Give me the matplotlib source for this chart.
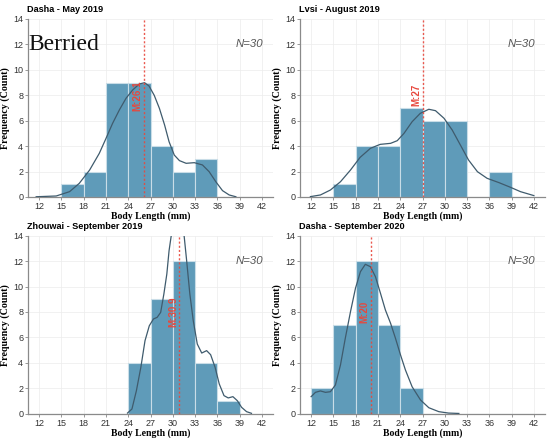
import matplotlib
matplotlib.use("Agg")
import matplotlib.pyplot as plt
import numpy as np

# ---- data ----
bin_edges = [12, 15, 18, 21, 24, 27, 30, 33, 36, 39, 42]
x_ticks = [12, 15, 18, 21, 24, 27, 30, 33, 36, 39, 42]
y_ticks = [0, 2, 4, 6, 8, 10, 12, 14]

titles = ["Dasha - May 2019", "Lvsi - August 2019",
          "Zhouwai - September 2019", "Dasha - September 2020"]

counts_1 = [0, 1, 2, 9, 9, 4, 2, 3, 0, 0]
counts_2 = [0, 1, 4, 4, 7, 6, 6, 0, 2, 0]
counts_3 = [0, 0, 0, 0, 4, 9, 12, 4, 1, 0]
counts_4 = [2, 7, 12, 7, 2, 0, 0, 0, 0, 0]

means = [26.1, 27, 30.9, 20]
mean_labels = ["M:26.1", "M:27", "M:30.9", "M:20"]
n_labels = ["N=30", "N=30", "N=30", "N=30"]

# density curves (in count units)
kde_x_1 = [11.6, 14.3, 16.1, 17.4, 18.8, 20.1, 21.0, 21.9, 22.8, 23.7, 24.6, 25.5, 26.2,
           26.8, 27.5, 28.2, 28.9, 29.5, 30.2, 30.9, 31.8, 32.9, 34.0, 34.9, 35.8, 36.7,
           37.6, 38.5]
kde_y_1 = [0.02, 0.08, 0.42, 1.07, 2.12, 3.43, 4.6, 5.8, 6.84, 7.76, 8.42, 8.89, 8.99,
           8.73, 8.0, 6.97, 5.66, 4.35, 3.3, 2.86, 2.65, 2.7, 2.52, 1.99, 1.2, 0.5,
           0.16, 0.02]

kde_x_2 = [11.9, 13.25, 14.6, 15.95, 17.3, 18.6, 19.99, 21.3, 22.7, 23.6, 24.5, 25.6,
           26.7, 27.85, 28.75, 29.9, 31.0, 32.1, 33.2, 34.4, 35.7, 37.3, 38.86, 40.2, 42.0]
kde_y_2 = [0.03, 0.16, 0.55, 1.2, 2.12, 3.12, 3.83, 4.14, 4.22, 4.43, 5.0, 5.92,
           6.58, 6.9, 6.79, 6.19, 5.27, 4.09, 2.91, 1.99, 1.47, 1.13, 0.76, 0.42, 0.11]

kde_x_3 = [23.9, 24.5, 25.1, 25.7, 26.26, 26.84, 27.4, 27.9, 28.37, 28.8, 29.2, 29.5,
           29.76, 30.2, 30.7, 31.2, 31.55, 31.87, 32.3, 32.76, 33.3, 33.9, 34.56, 35.1,
           35.7, 36.26, 36.9, 37.47, 38.1, 38.7, 39.27, 39.94, 40.6]
kde_y_3 = [0.05, 0.37, 1.81, 3.65, 5.74, 6.92, 7.45, 7.58, 7.97, 9.41, 10.99, 12.82,
           13.87, 15.5, 16.2, 15.4, 13.87, 12.03, 9.41, 7.31, 5.48, 4.77, 4.96, 4.64,
           3.65, 2.34, 1.42, 1.24, 1.34, 1.02, 0.5, 0.16, 0.03]

kde_x_4 = [12.0, 12.58, 13.25, 13.93, 14.6, 15.27, 15.95, 16.6, 17.3, 17.97, 18.64,
           19.3, 19.99, 20.66, 21.34, 22.0, 22.7, 23.36, 24.04, 24.7, 25.6, 26.73,
           27.85, 29.2, 30.5, 31.9]
kde_y_4 = [1.34, 1.68, 1.79, 1.68, 1.73, 2.26, 3.83, 5.93, 8.02, 9.86, 11.17,
           11.75, 11.56, 10.78, 9.47, 8.16, 7.11, 5.93, 4.62, 3.44, 2.12, 1.08,
           0.47, 0.16, 0.05, 0.02]

counts = [counts_1, counts_2, counts_3, counts_4]
kde_x = [kde_x_1, kde_x_2, kde_x_3, kde_x_4]
kde_y = [kde_y_1, kde_y_2, kde_y_3, kde_y_4]

# ---- style ----
BAR = "#5f9bb9"
EDGE = "#c9dde7"
CURVE = "#3f5b6d"
RED = "#e8473c"
SANS = ["Liberation Sans", "DejaVu Sans"]
SERIF = ["Liberation Serif", "DejaVu Serif"]

fig = plt.figure(figsize=(5.5, 4.38), dpi=100)
W, H = 550, 438
boxes = [(28, 19), (300, 19), (28, 235.7), (300, 235.7)]
aw, ah = 245, 178

for i in range(4):
    x0, y0 = boxes[i]
    ax = fig.add_axes([x0 / W, 1 - (y0 + ah) / H, aw / W, ah / H])
    widths = np.diff(bin_edges)
    ax.bar(bin_edges[:-1], counts[i], width=widths, align="edge",
           color=BAR, edgecolor=EDGE, linewidth=0.8, zorder=2)
    ax.plot(kde_x[i], kde_y[i], color=CURVE, lw=0.9, zorder=3,
            solid_joinstyle="round", antialiased=True)
    ax.axvline(means[i], color=RED, lw=1.0, ls=(0, (1.5, 1.5)), alpha=0.9, zorder=4)
    ax.text(means[i] - 0.2, 8.0, mean_labels[i], rotation=90, color=RED,
            fontsize=7, fontweight="bold", ha="right", va="center",
            family=SANS, zorder=5)
    ax.text(42.2, 12.0, n_labels[i], color="#555555", fontsize=8.2,
            style="italic", ha="right", va="center", family=SANS)
    ax.set_xlim(10.5, 43.5)
    ax.set_ylim(0, 14)
    ax.set_xticks(x_ticks)
    ax.set_yticks(y_ticks)
    ax.tick_params(labelsize=6.5, length=2, width=0.6, colors="#888888",
                   labelcolor="#333333", pad=1.5)
    for lab in ax.get_xticklabels() + ax.get_yticklabels():
        lab.set_family(SANS)
    ax.grid(True, color="#ececec", lw=0.5, zorder=0)
    ax.set_axisbelow(True)
    for s in ["top", "right"]:
        ax.spines[s].set_visible(False)
    for s in ["left", "bottom"]:
        ax.spines[s].set_color("#8a8a8a")
        ax.spines[s].set_linewidth(0.9)
    ax.set_xlabel("Body Length (mm)", family=SERIF, fontweight="bold",
                  fontsize=7, labelpad=0.5)
    ax.set_ylabel("Frequency (Count)", family=SERIF, fontweight="bold",
                  fontsize=7.2, labelpad=2)
    ax.set_title(titles[i], loc="left", family=SANS, fontweight="bold",
                 fontsize=6.6, pad=5, x=-0.005)

fig.text(28 / W, 1 - 45 / H, "Berried", family=SERIF, fontsize=17,
         ha="left", va="center", color="#111111")

fig.savefig("out.png", dpi=100)
